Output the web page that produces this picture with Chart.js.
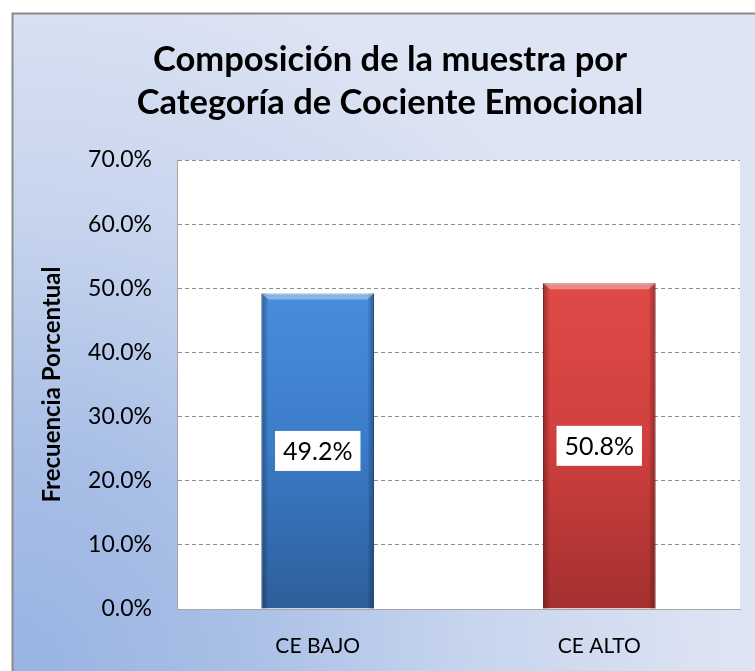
<!DOCTYPE html>
<html><head><meta charset="utf-8">
<script src="https://cdn.jsdelivr.net/npm/chart.js@4/dist/chart.umd.min.js"></script>
<style>html,body{margin:0;padding:0;background:#fff}#wrap{width:755px;height:671px}</style>
</head><body><div id="wrap"><canvas id="c" width="755" height="671"></canvas></div>
<script>
const categories = ['CE BAJO', 'CE ALTO'];
const values = [49.2, 50.8];
const yTicks = [0, 10, 20, 30, 40, 50, 60, 70];
const titleLines = ['Composición de la muestra por', 'Categoría de Cociente Emocional'];
const yTitle = 'Frecuencia Porcentual';

const FONT = 'Lato, "Open Sans", sans-serif';
const palettes = [
  {top:'#4a8fdc', mid:'#3b7cc9', bot:'#2e5e9b', edge:'rgba(20,50,90,0.45)'},
  {top:'#e04a47', mid:'#cf403e', bot:'#a3302f', edge:'rgba(90,15,15,0.45)'}
];

const bgPlugin = {
  id:'bg',
  beforeDraw(chart){
    const {ctx, width, height, chartArea:a} = chart;
    ctx.save();
    ctx.fillStyle = '#fff';
    ctx.fillRect(0,0,width,height);
    const g = ctx.createRadialGradient(12, height, 0, 12, height, 720);
    g.addColorStop(0, '#98b3e2');
    g.addColorStop(0.3, '#a8bee6');
    g.addColorStop(0.65, '#c8d5ee');
    g.addColorStop(1, '#dde4f3');
    ctx.fillStyle = g;
    ctx.fillRect(13,14,width-13,height-14);
    ctx.strokeStyle = '#8a8a8a';
    ctx.lineWidth = 2;
    ctx.beginPath();
    ctx.moveTo(12.5, height); ctx.lineTo(12.5, 13.5); ctx.lineTo(width, 13.5);
    ctx.stroke();
    ctx.fillStyle = '#ffffff';
    ctx.fillRect(a.left, a.top, a.right-a.left, a.bottom-a.top);
    ctx.restore();
  }
};

const barFx = {
  id:'barfx',
  afterDatasetsDraw(chart){
    const {ctx} = chart;
    const meta = chart.getDatasetMeta(0);
    meta.data.forEach((bar, i) => {
      const p = palettes[i % palettes.length];
      const l = bar.x - bar.width/2, r = bar.x + bar.width/2, t = bar.y, b = bar.base;
      ctx.save();
      const h = ctx.createLinearGradient(l,0,r,0);
      h.addColorStop(0, p.edge);
      h.addColorStop(0.06, 'rgba(0,0,0,0)');
      h.addColorStop(0.94, 'rgba(0,0,0,0)');
      h.addColorStop(1, p.edge);
      ctx.fillStyle = h;
      ctx.fillRect(l, t, r-l, b-t);
      ctx.fillStyle = 'rgba(255,255,255,0.35)';
      ctx.beginPath();
      ctx.moveTo(l, t); ctx.lineTo(r, t); ctx.lineTo(r-7, t+6); ctx.lineTo(l+7, t+6); ctx.closePath();
      ctx.fill();
      const cy = (t + b) / 2;
      const txt = values[i].toFixed(1) + '%';
      ctx.font = '25px ' + FONT;
      const tw = ctx.measureText(txt).width;
      const bw = Math.max(83, tw + 16), bh = 40;
      ctx.fillStyle = '#ffffff';
      ctx.fillRect(bar.x - bw/2, cy - bh/2, bw, bh);
      ctx.fillStyle = '#000000';
      ctx.textAlign = 'center';
      ctx.textBaseline = 'middle';
      ctx.fillText(txt, bar.x, cy + 1);
      ctx.restore();
    });
  }
};

new Chart(document.getElementById('c'), {
  type:'bar',
  data:{
    labels: categories,
    datasets:[{
      data: values,
      barPercentage: 0.4,
      categoryPercentage: 1.0,
      borderWidth: 1,
      borderColor: ctx => ctx.dataIndex === 0 ? '#2b5a93' : '#962c2b',
      backgroundColor: ctx => {
        const a = ctx.chart.chartArea;
        if (!a) return palettes[ctx.dataIndex].mid;
        const p = palettes[ctx.dataIndex % palettes.length];
        const g = ctx.chart.ctx.createLinearGradient(0, a.top + 120, 0, a.bottom);
        g.addColorStop(0, p.top);
        g.addColorStop(0.5, p.mid);
        g.addColorStop(1, p.bot);
        return g;
      }
    }]
  },
  options:{
    responsive:false,
    animation:false,
    devicePixelRatio:1,
    layout:{padding:{left:40, right:15, top:0, bottom:0}},
    plugins:{
      legend:{display:false},
      tooltip:{enabled:false},
      title:{
        display:true,
        text: titleLines,
        color:'#000',
        font:{family:FONT, size:34.5, weight:'bold', lineHeight:'43px'},
        padding:{top:38.5, bottom:35.5}
      }
    },
    scales:{
      x:{
        grid:{display:false, drawTicks:false},
        border:{display:true, color:'#a6a6a6', width:1},
        ticks:{color:'#000', font:{family:FONT, size:21}, padding:25},
        afterFit(s){ s.height = 62; }
      },
      y:{
        min:0, max:70,
        afterBuildTicks(s){ s.ticks = yTicks.map(v => ({value:v})); },
        grid:{color:'#8c8c8c', lineWidth:1, drawTicks:false},
        border:{display:true, color:'#a6a6a6', width:1, dash:[4,3]},
        ticks:{color:'#000', font:{family:FONT, size:23}, padding:25,
               callback: v => v.toFixed(1) + '%'},
        title:{display:true, text:yTitle, color:'#000',
               font:{family:FONT, size:24, weight:'bold', lineHeight:1.2}, padding:{top:-2.4, bottom:0}},
        afterFit(s){ s.width = 137; }
      }
    }
  },
  plugins:[bgPlugin, barFx]
});
</script>
</body></html>
